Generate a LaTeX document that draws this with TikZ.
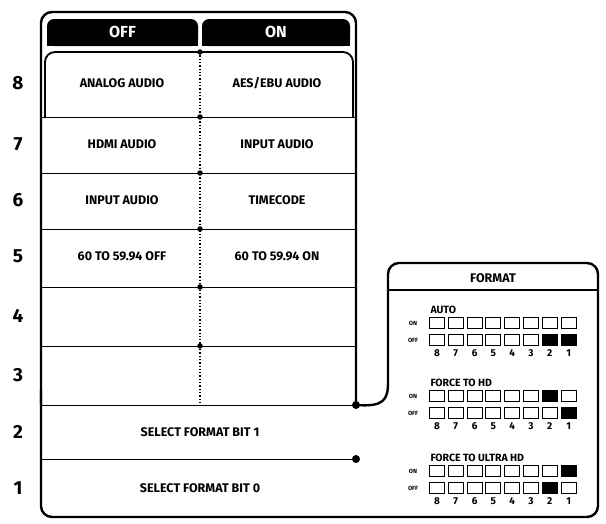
\documentclass[tikz,border=0pt]{standalone}
\usepackage{fontspec}
\setmainfont{Fira Sans}
\begin{document}
\begin{tikzpicture}[x=1pt,y=-1pt,
  frame/.style={line width=2.4pt,rounded corners=11pt},
  rowline/.style={line width=1pt},
  cell/.style={font=\bfseries\fontsize{12.5}{13}\selectfont},
  num/.style={font=\fontsize{19}{19}\selectfont\bfseries},
  tab/.style={fill=black,rounded corners=7pt},
  dot/.style={circle,fill=black,inner sep=0pt,minimum size=8pt},
  sdot/.style={circle,fill=black,inner sep=0pt,minimum size=5.5pt},
  sq/.style={draw,line width=1.1pt,minimum width=15pt,minimum height=11pt,inner sep=0pt},
  sqf/.style={sq,fill=black},
  small/.style={font=\bfseries\fontsize{6}{6}\selectfont},
  lab/.style={font=\bfseries\fontsize{10.5}{11}\selectfont,anchor=west},
  dig/.style={font=\bfseries\fontsize{10}{10}\selectfont}]
\useasboundingbox (0,0) rectangle (606,523);
% outer frame
\draw[frame] (41,405) -- (41,12) -- (356,12) -- (356,405);
\node[dot] (p3) at (356,405) {};
\coordinate (fj) at (388,382);
\draw[line width=2.4pt] (p3.center) .. controls (384,407) and (388,400) .. (fj);
\draw[frame] (fj) -- (388,263) -- (598,263) -- (598,517) -- (41,517) -- (41,390);
% tabs
\path[tab] (47,46) -- (47,19) -- (198,19) -- (198,46) -- cycle;
\path[tab] (202,46) -- (202,19) -- (350,19) -- (350,46) -- cycle;
\fill[black] (47,38) rectangle (198,46);
\fill[black] (202,38) rectangle (350,46);
\node[text=white,font=\bfseries\fontsize{16}{16}\selectfont] (toff) at (122.5,32) {OFF};
\node[text=white,font=\bfseries\fontsize{16}{16}\selectfont] (ton) at (276,32) {ON};
% inner top
\draw[line width=1.8pt,rounded corners=10pt] (45,117) -- (45,52) -- (353,52) -- (353,117);
% row lines
\foreach \y in {117,173,229,287,346,405,459} \draw[rowline] (41,\y) -- (356,\y);
\draw[line width=1.3pt,dotted] (200,52) -- (200,405);
\foreach \y/\n in {52/a,117/b,173/c,229/d,287/e,346/f} \node[sdot] (d\n) at (200,\y) {};
\node[dot] (p2) at (356,459) {};
% numbers
\foreach \y/\t in {83/8,144/7,200/6,256/5,316/4,375/3,432/2,488/1} \node[num] (n\t) at (18,\y) {\t};
% cells
\node[cell] (c8a) at (122,83) {ANALOG AUDIO};
\node[cell] (c8b) at (277,83) {AES/EBU AUDIO};
\node[cell] (c7a) at (122,144) {HDMI AUDIO};
\node[cell] (c7b) at (277,144) {INPUT AUDIO};
\node[cell] (c6a) at (122,200) {INPUT AUDIO};
\node[cell] (c6b) at (277,200) {TIMECODE};
\node[cell] (c5a) at (122,256) {60 TO 59.94 OFF};
\node[cell] (c5b) at (277,256) {60 TO 59.94 ON};
\node[cell] (c2) at (200,432) {SELECT FORMAT BIT 1};
\node[cell] (c1) at (200,488) {SELECT FORMAT BIT 0};
% format panel
\node[font=\bfseries\fontsize{12.5}{13}\selectfont] (fmt) at (493,278) {FORMAT};
\draw[line width=1.1pt] (388,290) -- (598,290);
\foreach \ly/\t in {310/AUTO, 383/FORCE TO HD, 458/FORCE TO ULTRA HD}{
  \node[lab] at (427,\ly) {\t};
  \node[small] at (413,\ly+13) {ON};
  \node[small] at (413,\ly+30) {OFF};
  \foreach \i in {1,...,8}{
    \pgfmathsetmacro{\xx}{437+(\i-1)*18.8}
    \pgfmathtruncatemacro{\b}{9-\i}
    \node[sq] at (\xx,\ly+13) {};
    \node[sq] at (\xx,\ly+30) {};
    \node[dig] at (\xx,\ly+43) {\b};
  }
}
% filled squares
\node[sqf] at (437+6*18.8,340) {};
\node[sqf] at (437+7*18.8,340) {};
\node[sqf] at (437+6*18.8,396) {};
\node[sqf] at (437+7*18.8,413) {};
\node[sqf] at (437+7*18.8,471) {};
\node[sqf] at (437+6*18.8,488) {};
\end{tikzpicture}
\end{document}
